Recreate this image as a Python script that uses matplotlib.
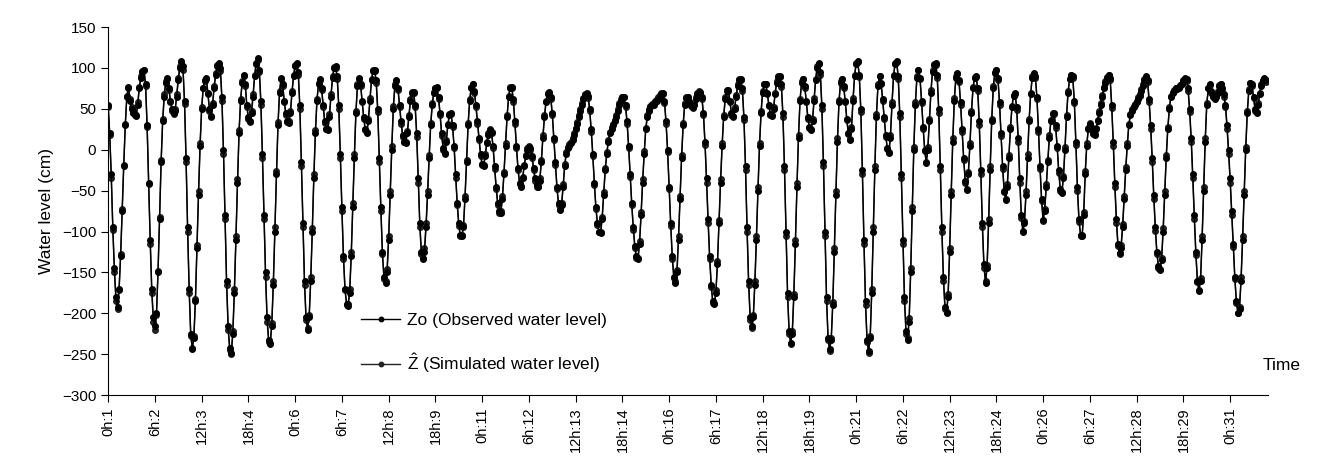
import numpy as np
import matplotlib
matplotlib.use("Agg")
import matplotlib.pyplot as plt

plt.rcParams.update({'font.size': 11})
plt.rcParams['font.family'] = ['Liberation Sans', 'DejaVu Sans']
plt.rcParams['mathtext.fontset'] = 'custom'
plt.rcParams['mathtext.rm'] = 'Liberation Sans'
plt.rcParams['mathtext.it'] = 'Liberation Sans'
plt.rcParams['mathtext.default'] = 'regular'

# hourly water level (cm), one row per day
zo_observed = [
    55, 20, -30, -95, -145, -180, -192, -170, -130, -75, -20, 30, 65, 77, 60, 50, 45, 42, 41, 55, 75, 88, 95, 98,
    80, 30, -40, -110, -170, -205, -216, -200, -150, -85, -15, 35, 65, 82, 88, 75, 60, 50, 45, 48, 65, 85, 100, 108,
    102, 60, -10, -95, -170, -225, -244, -230, -185, -120, -55, 5, 50, 75, 85, 88, 70, 50, 41, 55, 75, 92, 102, 106,
    100, 65, 0, -80, -160, -215, -242, -248, -225, -175, -110, -40, 20, 60, 82, 91, 80, 55, 40, 35, 45, 65, 90, 105,
    112, 98, 60, -5, -80, -150, -205, -232, -238, -215, -165, -100, -30, 30, 70, 88, 80, 60, 45, 35, 33, 45, 70, 90,
    102, 106, 95, 55, -15, -90, -160, -205, -220, -205, -160, -100, -35, 20, 60, 80, 86, 75, 55, 35, 26, 24, 40, 65,
    88, 100, 102, 90, 55, -5, -70, -130, -170, -188, -191, -175, -130, -70, -10, 45, 78, 88, 80, 60, 40, 25, 20, 35,
    60, 85, 96, 98, 85, 50, -10, -70, -125, -155, -163, -150, -110, -55, 0, 50, 78, 85, 75, 55, 35, 18, 10, 8,
    20, 40, 60, 70, 71, 55, 20, -35, -90, -125, -134, -125, -95, -55, -10, 30, 55, 70, 76, 77, 65, 45, 20, 2,
    -4, 10, 30, 42, 45, 30, 5, -30, -65, -90, -104, -106, -95, -60, -15, 30, 60, 76, 81, 72, 55, 35, 15, -5,
    -17, -20, -8, 8, 18, 24, 22, 5, -20, -45, -65, -75, -77, -60, -30, 5, 40, 65, 76, 77, 62, 35, 5, -22,
    -40, -45, -35, -20, -8, 0, 4, 2, -8, -22, -35, -43, -45, -38, -15, 15, 40, 58, 68, 71, 65, 45, 15, -15,
    -45, -65, -73, -68, -45, -20, -5, 2, 5, 8, 12, 18, 25, 32, 40, 48, 55, 62, 67, 69, 66, 50, 25, -5,
    -40, -70, -90, -100, -102, -85, -55, -25, -5, 10, 20, 26, 30, 35, 40, 48, 55, 60, 64, 65, 55, 35, 5, -30,
    -65, -95, -118, -130, -134, -115, -80, -40, -5, 25, 40, 48, 52, 55, 55, 58, 60, 62, 65, 68, 69, 60, 35, 0,
    -45, -90, -130, -155, -163, -150, -110, -60, -10, 30, 55, 63, 65, 60, 55, 52, 55, 62, 68, 70, 71, 65, 45, 10,
    -35, -85, -130, -165, -185, -189, -175, -140, -90, -40, 5, 40, 62, 72, 73, 60, 45, 41, 50, 65, 78, 85, 86, 75,
    40, -20, -95, -160, -205, -216, -205, -165, -110, -50, 5, 45, 70, 80, 81, 70, 55, 44, 41, 50, 68, 82, 89, 90,
    80, 45, -20, -100, -175, -222, -236, -225, -180, -115, -45, 15, 60, 82, 87, 78, 60, 40, 28, 24, 35, 60, 85, 100,
    106, 95, 55, -15, -100, -180, -230, -244, -232, -190, -125, -55, 10, 58, 82, 87, 78, 60, 38, 20, 12, 25, 60, 90,
    105, 108, 92, 50, -25, -110, -185, -232, -246, -230, -175, -100, -25, 40, 78, 90, 82, 62, 40, 18, 2, -4, 15, 55,
    90, 105, 108, 90, 45, -30, -110, -180, -222, -232, -210, -150, -75, 0, 55, 88, 98, 88, 60, 28, 0, -16, 0, 35,
    70, 95, 104, 106, 92, 50, -20, -95, -155, -192, -200, -180, -125, -55, 10, 60, 88, 94, 85, 58, 25, -10, -38, -49,
    -30, 5, 45, 75, 88, 90, 75, 35, -25, -90, -140, -163, -145, -90, -25, 35, 75, 94, 98, 88, 58, 20, -20, -50,
    -61, -45, -10, 25, 52, 66, 69, 52, 15, -35, -80, -100, -90, -55, -10, 35, 68, 88, 94, 90, 65, 25, -20, -60,
    -86, -75, -45, -15, 15, 35, 44, 45, 30, 5, -25, -48, -53, -35, 0, 40, 70, 86, 92, 90, 60, 10, -45, -85,
    -104, -106, -80, -30, 5, 25, 32, 28, 20, 18, 25, 35, 45, 55, 65, 75, 82, 88, 92, 88, 55, 10, -40, -85,
    -115, -126, -120, -95, -60, -25, 5, 30, 42, 48, 52, 55, 58, 62, 66, 72, 78, 85, 90, 85, 62, 30, -10, -55,
    -95, -125, -142, -147, -135, -100, -55, -10, 25, 50, 65, 70, 72, 75, 74, 76, 78, 80, 84, 88, 86, 75, 50, 15,
    -30, -80, -125, -160, -173, -160, -110, -50, 10, 55, 75, 80, 72, 66, 62, 65, 70, 78, 80, 76, 68, 55, 30, 0,
    -35, -75, -115, -155, -185, -200, -195, -160, -110, -55, 0, 45, 72, 82, 80, 65, 50, 45, 55, 68, 78, 84, 88, 85,
]

z_simulated = [
    52, 18, -35, -98, -150, -185, -195, -172, -128, -72, -18, 32, 66, 75, 62, 52, 46, 44, 43, 58, 77, 90, 96, 97,
    78, 28, -42, -115, -175, -210, -220, -202, -148, -82, -12, 38, 68, 84, 86, 73, 58, 48, 44, 50, 68, 88, 102, 106,
    98, 56, -15, -100, -175, -228, -242, -228, -182, -116, -50, 8, 52, 76, 84, 86, 68, 48, 40, 57, 78, 94, 104, 104,
    96, 60, -5, -85, -165, -220, -245, -250, -222, -170, -105, -36, 24, 62, 84, 90, 78, 52, 38, 34, 48, 68, 92, 106,
    110, 95, 55, -10, -85, -155, -210, -235, -236, -212, -160, -95, -26, 34, 72, 87, 78, 58, 43, 34, 35, 48, 72, 92,
    104, 105, 92, 50, -20, -95, -165, -208, -218, -202, -156, -96, -30, 24, 62, 82, 85, 73, 52, 33, 25, 26, 44, 68,
    90, 101, 100, 86, 50, -10, -75, -134, -172, -190, -188, -170, -125, -65, -5, 48, 80, 87, 78, 58, 38, 24, 22, 38,
    63, 87, 97, 96, 82, 46, -15, -75, -128, -158, -160, -146, -105, -50, 5, 53, 80, 84, 73, 52, 32, 16, 10, 10,
    23, 43, 62, 71, 69, 52, 16, -40, -94, -128, -132, -120, -90, -50, -6, 33, 57, 71, 76, 75, 62, 42, 17, 0,
    -5, 12, 32, 44, 44, 28, 2, -34, -68, -93, -106, -104, -92, -56, -12, 33, 62, 77, 80, 70, 52, 32, 12, -8,
    -19, -18, -5, 10, 20, 25, 20, 2, -24, -48, -68, -77, -75, -57, -27, 8, 42, 66, 77, 75, 59, 32, 2, -25,
    -42, -44, -33, -18, -6, 2, 5, 0, -10, -25, -38, -45, -44, -35, -12, 18, 42, 60, 69, 70, 62, 42, 12, -18,
    -48, -67, -72, -65, -42, -17, -3, 4, 7, 10, 14, 20, 27, 34, 42, 50, 57, 63, 68, 68, 63, 47, 22, -8,
    -43, -72, -92, -101, -100, -82, -52, -22, -3, 12, 22, 28, 32, 37, 42, 50, 57, 62, 65, 64, 52, 32, 2, -33,
    -68, -98, -120, -132, -132, -112, -76, -36, -2, 27, 42, 50, 54, 56, 57, 60, 62, 64, 67, 69, 68, 57, 32, -3,
    -48, -93, -133, -157, -161, -147, -106, -56, -6, 33, 57, 64, 64, 58, 53, 51, 56, 64, 70, 72, 70, 62, 42, 6,
    -40, -90, -134, -168, -187, -187, -172, -136, -86, -36, 8, 43, 64, 73, 72, 58, 43, 40, 52, 67, 80, 86, 85, 72,
    36, -25, -100, -165, -208, -218, -202, -160, -105, -46, 8, 48, 72, 81, 80, 68, 53, 43, 42, 52, 70, 84, 90, 89,
    77, 40, -25, -105, -180, -225, -238, -222, -176, -110, -40, 18, 62, 84, 86, 76, 58, 38, 27, 25, 38, 63, 87, 102,
    105, 92, 50, -20, -105, -185, -233, -246, -230, -186, -120, -50, 14, 61, 84, 86, 76, 58, 36, 19, 13, 28, 63, 92,
    106, 107, 89, 46, -30, -115, -190, -235, -248, -228, -170, -95, -20, 44, 80, 90, 80, 60, 38, 16, 1, -3, 18, 58,
    92, 106, 107, 87, 40, -35, -115, -185, -225, -230, -206, -145, -70, 4, 58, 90, 97, 86, 57, 25, -2, -15, 3, 38,
    73, 97, 105, 104, 88, 45, -25, -100, -160, -195, -198, -176, -120, -50, 14, 63, 90, 93, 83, 55, 22, -12, -40, -48,
    -27, 8, 48, 77, 89, 89, 72, 30, -30, -95, -144, -161, -141, -85, -20, 38, 78, 95, 97, 85, 55, 17, -23, -52,
    -60, -42, -6, 28, 54, 67, 68, 49, 10, -40, -84, -99, -87, -50, -5, 38, 70, 90, 93, 88, 62, 22, -24, -63,
    -87, -72, -42, -12, 18, 37, 45, 44, 27, 2, -28, -50, -52, -32, 4, 43, 72, 87, 91, 88, 57, 6, -50, -88,
    -105, -104, -76, -26, 8, 27, 33, 27, 19, 19, 27, 37, 47, 57, 67, 77, 84, 89, 91, 85, 51, 5, -45, -89,
    -118, -127, -117, -91, -56, -21, 8, 32, 44, 50, 53, 56, 60, 64, 68, 74, 80, 86, 89, 83, 58, 26, -15, -60,
    -99, -128, -144, -146, -132, -96, -50, -6, 28, 52, 66, 71, 73, 75, 75, 77, 79, 81, 85, 87, 84, 72, 46, 10,
    -35, -85, -129, -162, -172, -157, -106, -46, 14, 57, 76, 79, 70, 65, 63, 66, 72, 79, 80, 74, 65, 52, 26, -5,
    -40, -80, -119, -158, -187, -199, -192, -156, -105, -50, 4, 48, 74, 82, 78, 63, 48, 46, 57, 70, 80, 85, 87, 83,
]

tick_labels = ["0h:1", "6h:2", "12h:3", "18h:4", "0h:6", "6h:7", "12h:8", "18h:9",
               "0h:11", "6h:12", "12h:13", "18h:14", "0h:16", "6h:17", "12h:18", "18h:19",
               "0h:21", "6h:22", "12h:23", "18h:24", "0h:26", "6h:27", "12h:28", "18h:29", "0h:31"]
tick_hours = np.arange(len(tick_labels)) * 30

fig = plt.figure(figsize=(13.19, 4.75), dpi=100)
ax = fig.add_axes([0.082, 0.168, 0.879, 0.775])

hours_obs = np.arange(len(zo_observed))
hours_sim = np.arange(len(z_simulated))
ax.plot(hours_sim, z_simulated, color="#222222", lw=1.0, marker="o", ms=4.0,
        label=r"$\hat{Z}$ (Simulated water level)")
ax.plot(hours_obs, zo_observed, color="black", lw=1.0, marker="o", ms=4.0,
        label="Zo (Observed water level)")

ax.set_xlim(0, 744)
ax.set_ylim(-300, 150)
ax.set_yticks(np.arange(-300, 151, 50))
ax.set_xticks(tick_hours)
ax.set_xticklabels(tick_labels, rotation=90, fontsize=10.5)
ax.tick_params(axis="y", direction="out", length=5, labelsize=11)
ax.tick_params(axis="x", direction="out", length=5, pad=4)
ax.spines["top"].set_visible(False)
ax.spines["right"].set_visible(False)
ax.set_ylabel("Water level (cm)", fontsize=12.5, labelpad=6)

ax.text(0.996, 0.08, "Time", transform=ax.transAxes, ha="left", va="center", fontsize=12.5)

handles, labels = ax.get_legend_handles_labels()
ax.legend(handles[::-1], labels[::-1], loc="upper left", bbox_to_anchor=(0.205, 0.265),
          frameon=False, fontsize=12.5, handlelength=2.2, handletextpad=0.4, labelspacing=1.3,
          markerscale=0.8)

fig.savefig("out.png", dpi=100)
